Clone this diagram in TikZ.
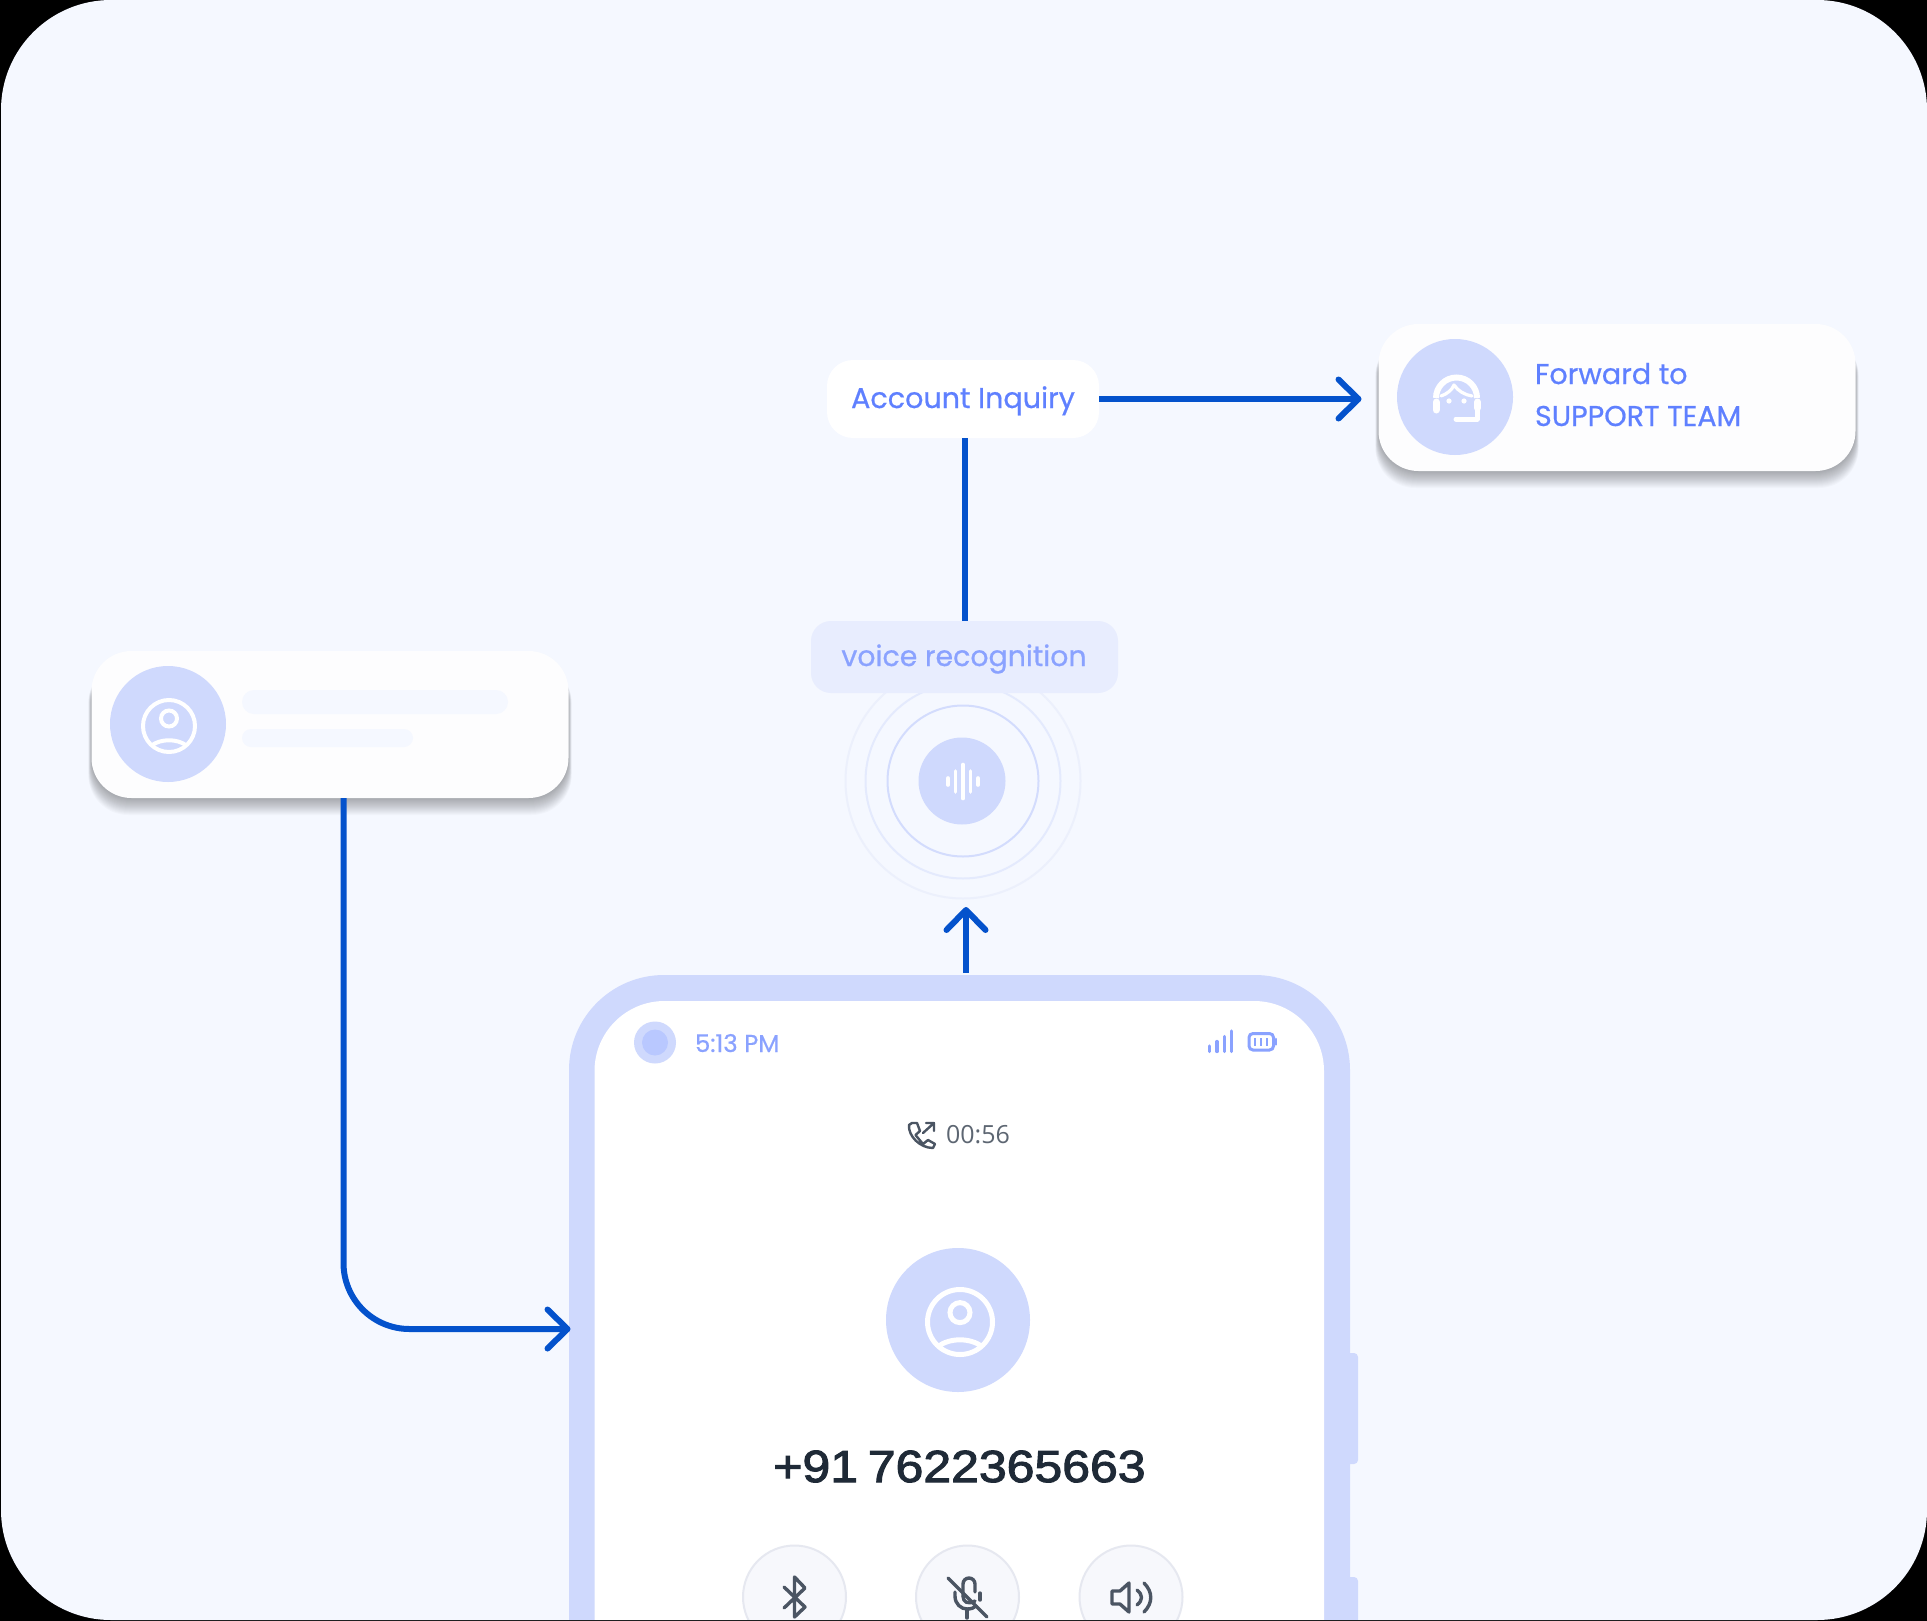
\documentclass[tikz,border=0pt]{standalone}
\usepackage{fontspec}
\setmainfont[FakeBold=0.6]{Poppins}
\newfontfamily\numfont[FakeBold=2.4, FakeStretch=1.11]{Liberation Sans}
\newfontfamily\clockfont{Open Sans}
\usetikzlibrary{arrows.meta}

\definecolor{pagebg}{HTML}{F5F8FF}
\definecolor{softblue}{HTML}{CFD9FD}
\definecolor{flowblue}{HTML}{0452CC}
\definecolor{labelblue}{HTML}{5F80FF}
\definecolor{paleblue}{HTML}{8AA2FF}
\definecolor{iconink}{HTML}{4B5563}
\definecolor{btnfill}{HTML}{F7F8FC}
\definecolor{btnline}{HTML}{E6E8F0}
\definecolor{ripplea}{HTML}{D3DCFD}
\definecolor{rippleb}{HTML}{E4EAFD}
\definecolor{ripplec}{HTML}{ECF0FC}
\definecolor{voicefill}{HTML}{E8EDFE}
\definecolor{camcore}{HTML}{B9C8FF}
\definecolor{numberink}{HTML}{1F2A37}
\definecolor{cardwhite}{HTML}{FDFDFE}

\pgfdeclarelayer{back}
\pgfsetlayers{back,main}

\tikzset{
  boxbase/.style={rectangle, inner sep=0pt, outer sep=0pt},
  cardbox/.style={boxbase, fill=cardwhite, rounded corners=40pt, minimum width=477pt, minimum height=147pt},
  avatar/.style={circle, inner sep=0pt, outer sep=0pt, fill=softblue, minimum size=#1},
  flow/.style={draw=flowblue, line width=6pt},
  flowarrow/.style={flow, -{Straight Barb[length=20pt, width=39pt, round]}},
  roundbtn/.style={circle, inner sep=0pt, fill=btnfill, draw=btnline, line width=2pt, minimum size=103pt},
  icon/.style={draw=iconink, line width=3.4pt, line cap=round, line join=round},
  txt/.style={inner sep=0pt, outer sep=0pt, anchor=base west}
}

% person glyph, used on both avatars
\newcommand{\personicon}[3]{
  \begin{scope}[shift={(#1,#2)}, scale=#3, draw=white, line width=#3*4pt]
    \draw (0,0) circle (26);
    \draw (0,-7.5) circle (8);
    \draw (-17.5,19.5) .. controls (-8,12.5) and (8,12.5) .. (17.5,19.5);
  \end{scope}
}

% soft shadow under a card
\newcommand{\cardshadow}[1]{
  \begin{pgfonlayer}{back}
    \foreach \s in {0,...,16}
      \fill[black, opacity=0.019, rounded corners=40pt]
        ([shift={(-0.2*\s,12)}]#1.north west) rectangle ([shift={(0.2*\s,\s+1)}]#1.south east);
  \end{pgfonlayer}
}

\begin{document}
\begin{tikzpicture}[x=1pt, y=-1pt]
  \useasboundingbox (0,0) rectangle (1927,1621);

  % page
  \begin{pgfonlayer}{back}
    \fill[black] (0,0) rectangle (1927,1621);
    \fill[pagebg, rounded corners=110pt] (1,0) rectangle (1927,1620);
  \end{pgfonlayer}

  % support card
  \node[cardbox] (support) at (1617,397.5) {};
  \cardshadow{support}
  \node[avatar=116pt] (agent) at (1455,397) {};
  \node[txt, text=labelblue, font=\fontsize{28.6}{28.6}\selectfont] (forward) at (1535,384) {Forward to};
  \node[txt, text=labelblue, font=\fontsize{28.6}{28.6}\selectfont] (team) at (1535,426) {SUPPORT TEAM};
  % headset glyph
  \draw[white, line width=6pt] (1436,398) arc[start angle=180, end angle=360, radius=20.5];
  \draw[white, line width=7pt, line cap=round] (1436,402) -- (1436,410);
  \draw[white, line width=7pt, line cap=round] (1477.5,402) -- (1477.5,408);
  \draw[white, line width=5pt, line cap=round, line join=round] (1477,408) -- (1477,419) -- (1456,419);
  \draw[white, line width=3.2pt, line cap=round, line join=round] (1441,396) .. controls (1447,394) and (1452,390) .. (1454,385)
    .. controls (1458,391) and (1465,395) .. (1472,396);
  \fill[white] (1449,401) circle (2.6) (1464,401) circle (2.6);

  % caller card
  \node[cardbox] (caller) at (330,724.5) {};
  \cardshadow{caller}
  \node[avatar=116pt] (calleravatar) at (168,724) {};
  \personicon{169}{726}{1}
  \node[boxbase, fill=pagebg, rounded corners=12pt, minimum width=266pt, minimum height=24pt] (linea) at (375,702) {};
  \node[boxbase, fill=pagebg, rounded corners=9pt, minimum width=171pt, minimum height=18pt] (lineb) at (327.5,738) {};

  % labels on the way up
  \node[boxbase, fill=white, rounded corners=26pt, minimum width=272pt, minimum height=78pt] (account) at (963,399) {};
  \node[inner sep=0pt, anchor=base, text=labelblue, font=\fontsize{28.6}{28.6}\selectfont] (accounttxt) at (963,408) {Account Inquiry};

  % ripples behind the voice label
  \node[circle, draw=ripplec, line width=2pt, minimum size=235pt, inner sep=0pt] (ringc) at (963,781) {};
  \node[circle, draw=rippleb, line width=2pt, minimum size=195pt, inner sep=0pt] (ringb) at (963,781) {};
  \node[circle, draw=ripplea, line width=2pt, minimum size=151pt, inner sep=0pt] (ringa) at (963,781) {};
  \node[avatar=87pt] (voicecore) at (962,781) {};
  \foreach \xx/\hh in {948/7, 955.5/21, 963/34, 970.5/21, 978/7}
    \draw[white, line width=3.6pt, line cap=round] (\xx,781.5-\hh/2) -- (\xx,781.5+\hh/2);
  \node[boxbase, fill=voicefill, rounded corners=20pt, minimum width=307pt, minimum height=72pt] (voice) at (964.5,657) {};
  \node[inner sep=0pt, anchor=base, text=paleblue, font=\fontsize{28.4}{28.4}\selectfont] (voicetxt) at (964,666) {voice recognition};

  % phone
  \begin{scope}
    \clip (0,0) rectangle (1927,1619.5);
    \fill[softblue, rounded corners=4pt] (1340,1353) rectangle (1358,1464);
    \fill[softblue, rounded corners=4pt] (1340,1577) rectangle (1358,1640);
    \node[boxbase, fill=softblue, rounded corners=95pt, minimum width=781pt, minimum height=900pt] (phone) at (959.5,1425) {};
    \node[boxbase, fill=white, rounded corners=70pt, minimum width=729.5pt, minimum height=900pt] (screen) at (959.25,1451) {};

    \node[circle, inner sep=0pt, fill=softblue, minimum size=42pt] (camera) at (655,1042.5) {};
    \node[circle, inner sep=0pt, fill=camcore, minimum size=26pt] (lens) at (655,1042.5) {};
    \node[txt, text=paleblue, font=\fontsize{24.4}{24.4}\selectfont] (clock) at (695,1052) {5:13 PM};

    % signal bars and battery
    \foreach \xx/\topy in {1209.5/1046, 1217/1041.5, 1224.5/1036.5, 1231.5/1031}
      \draw[paleblue, line width=3.2pt, line cap=round] (\xx,\topy) -- (\xx,1051.5);
    \draw[paleblue, line width=3pt, rounded corners=4pt] (1249,1033.5) rectangle (1273.5,1050);
    \draw[paleblue, line width=2.4pt, line cap=round] (1276,1039) -- (1276,1044.5);
    \foreach \xx in {1255,1261,1267}
      \draw[paleblue, line width=2.6pt] (\xx,1038) -- (\xx,1046);

    % outgoing call glyph
    \draw[iconink, line width=2.4pt, line join=round, line cap=round]
      (912,1123) -- (917,1123) -- (920,1131) -- (915.5,1135) -- (923,1144) -- (928,1140) -- (935,1144) -- (933,1148)
      .. controls (920,1148) and (908,1136) .. (909,1125) -- cycle;
    \draw[iconink, line width=2.4pt, line cap=round, line join=round]
      (923,1133) -- (934,1123) (926,1123) -- (934,1123) -- (934,1131);
    \node[txt, text=iconink!90!white, font=\clockfont\fontsize{25}{25}\selectfont] (timer) at (946,1143) {00:56};

    % callee
    \node[avatar=144pt] (calleeavatar) at (958,1320) {};
    \personicon{960}{1322}{1.25}
    \node[inner sep=0pt, anchor=base, text=numberink, font=\numfont\fontsize{45}{45}\selectfont] (number) at (959.5,1482) {+91\kern-4pt{} 7622365663};

    % buttons
    \node[roundbtn] (btnblue) at (794.5,1597) {};
    \node[roundbtn] (btnmic) at (967.5,1597) {};
    \node[roundbtn] (btnspk) at (1131,1597) {};
    \draw[icon] (784,1587) -- (805,1607) -- (794.5,1617) -- (794.5,1577) -- (805,1588) -- (784,1608);
    \draw[icon] (948,1578) -- (987,1617);
    \draw[icon] (975,1592) -- (975,1584) arc[start angle=0, end angle=-180, radius=6] -- (963,1596);
    \draw[icon] (963,1596) .. controls (963,1602) and (968,1605) .. (975,1601);
    \draw[icon] (955,1592) -- (955,1596) .. controls (955,1604) and (961,1609) .. (967,1609) .. controls (971,1609) and (974,1608) .. (976,1606);
    \draw[icon] (980,1593) -- (980,1600);
    \draw[icon] (967,1609) -- (967,1618);
    \draw[icon] (1112,1591) -- (1120,1591) -- (1129,1583) -- (1129,1612) -- (1120,1604) -- (1112,1604) -- cycle;
    \draw[icon] (1137,1590) .. controls (1143,1595) and (1143,1600) .. (1137,1605);
    \draw[icon] (1144,1583) .. controls (1153,1592) and (1153,1603) .. (1144,1612);
  \end{scope}

  % connectors
  \coordinate (turn) at (343.5,1329);
  \coordinate (uptip) at (966,907);
  \draw[flowarrow, rounded corners=66pt] (caller.south -| turn) -- (turn) -- ([xshift=1.5pt]phone.west |- turn);
  \draw[flowarrow] ([yshift=2pt]phone.north -| uptip) -- (uptip);
  \draw[flow] (voice.north) -- (voice.north |- account.south);
  \draw[flowarrow, shorten >=17pt] (account.east) -- (support.west |- account.east);
\end{tikzpicture}
\end{document}
